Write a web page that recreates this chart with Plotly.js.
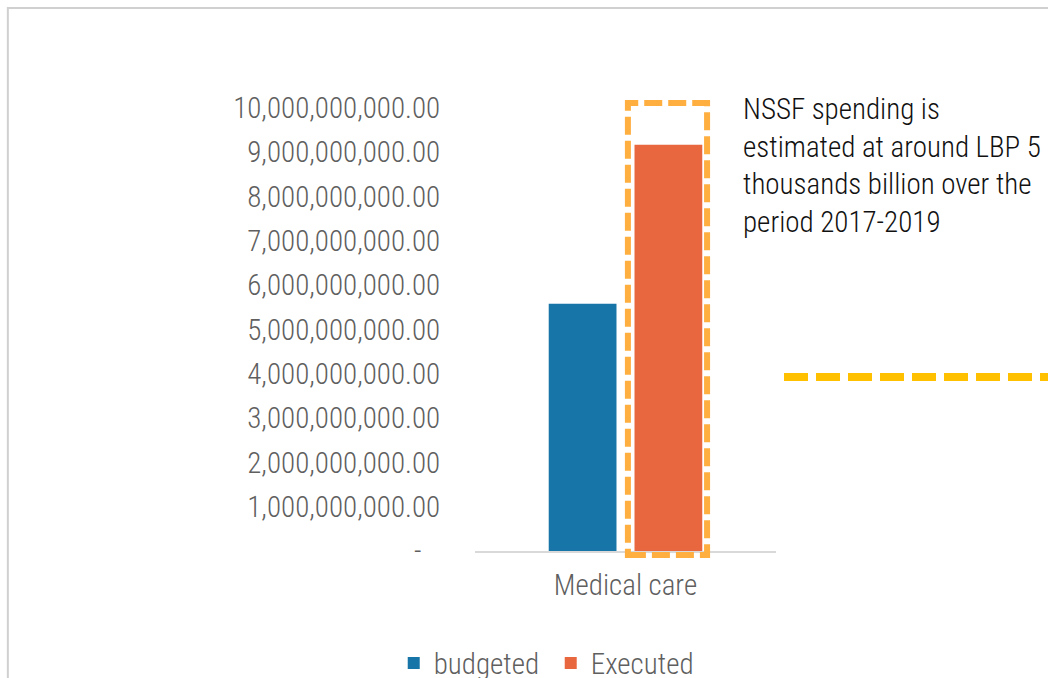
<!DOCTYPE html>
<html>
<head>
<meta charset="utf-8">
<script src="https://cdn.plot.ly/plotly-3.0.1.min.js"></script>
<style>html,body{margin:0;padding:0;background:#fff;}#chart{width:1048px;height:678px;}</style>
</head>
<body>
<div id="chart"></div>
<script>
const categories = ["Medical care"];
const budgeted = [5580000000];
const executed = [9170000000];
const seriesNames = ["budgeted\u00a0", "Executed"];
const tickValues = [0, 1e9, 2e9, 3e9, 4e9, 5e9, 6e9, 7e9, 8e9, 9e9, 1e10];
const tickLabels = ["-\u00a0\u00a0\u2009", "1,000,000,000.00", "2,000,000,000.00", "3,000,000,000.00", "4,000,000,000.00",
  "5,000,000,000.00", "6,000,000,000.00", "7,000,000,000.00", "8,000,000,000.00", "9,000,000,000.00", "10,000,000,000.00"];
const noteText = "NSSF spending is<br>estimated at around LBP 5<br>thousands billion over the<br>period 2017-2019";

const FONT = "'Roboto Condensed', 'Liberation Sans Narrow', 'DejaVu Sans Condensed', sans-serif";
const GREY = "#5f5f5f";
const LIGHT = {family: FONT, size: 29, color: GREY, weight: 300};

const traces = [
  {type: "bar", name: seriesNames[0], x: categories, y: budgeted, marker: {color: "#1775A7"}, hoverinfo: "none"},
  {type: "bar", name: seriesNames[1], x: categories, y: executed, marker: {color: "#E8673F"}, hoverinfo: "none"}
];

const layout = {
  width: 1048, height: 678,
  margin: {l: 475, r: 272, t: 108, b: 127, pad: 0, autoexpand: false},
  paper_bgcolor: "#ffffff", plot_bgcolor: "#ffffff",
  font: LIGHT,
  barmode: "group", bargap: 0.43, bargroupgap: 0.21,
  showlegend: true,
  legend: {orientation: "h", x: -0.27, xanchor: "left", y: -0.253, yanchor: "middle",
    font: LIGHT, bgcolor: "rgba(0,0,0,0)", traceorder: "normal"},
  xaxis: {type: "category", automargin: false, showline: true, linecolor: "#d9d9d9", linewidth: 2, showgrid: false, zeroline: false,
    ticks: "outside", ticklen: 7, tickcolor: "rgba(0,0,0,0)", tickfont: LIGHT, fixedrange: true},
  yaxis: {range: [0, 1e10], automargin: false, tickmode: "array", tickvals: tickValues, ticktext: tickLabels, showgrid: false, zeroline: false,
    showline: false, ticks: "outside", ticklen: 28, tickcolor: "rgba(0,0,0,0)", tickfont: LIGHT, fixedrange: true},
  shapes: [
    {type: "rect", xref: "paper", yref: "paper", x0: -1.552, x1: 2.5, y0: -1, y1: 1.2257,
      line: {color: "#d0d0d0", width: 2}, fillcolor: "rgba(0,0,0,0)", layer: "below"},
    {type: "rect", xref: "paper", yref: "paper", x0: 0.508, x1: 0.771, y0: -0.009, y1: 1.0113,
      line: {color: "#FFAE40", width: 6, dash: "18px,6px"}, fillcolor: "rgba(0,0,0,0)", layer: "above"},
    {type: "line", xref: "paper", yref: "paper", x0: 1.0266, x1: 1.95, y0: 0.3928, y1: 0.3928,
      line: {color: "#FFC000", width: 8, dash: "24px,8px"}}
  ],
  annotations: [
    {xref: "paper", yref: "paper", x: 0.883, y: 1.041, xanchor: "left", yanchor: "top", align: "left",
      showarrow: false, text: noteText, font: {family: FONT, size: 29, color: "#111111", weight: 300}}
  ]
};

Plotly.newPlot("chart", traces, layout, {displayModeBar: false, staticPlot: true});
</script>
</body>
</html>
